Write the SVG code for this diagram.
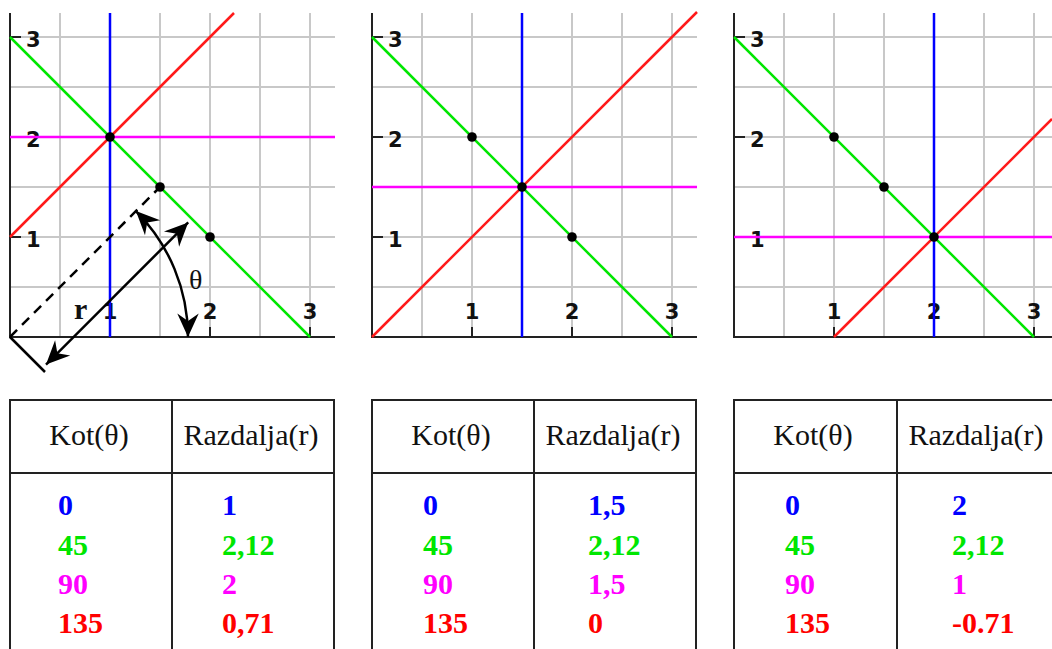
<svg xmlns="http://www.w3.org/2000/svg" width="1052" height="649" viewBox="0 0 1052 649">
<style>
.grid{stroke:#c8c8c8;stroke-width:2;fill:none}
.axis{stroke:#222;stroke-width:2;fill:none}
.tick{stroke:#222;stroke-width:2}
.lbl{font-family:"DejaVu Sans",Verdana,sans-serif;font-weight:bold;fill:#111}
.ym{text-anchor:start}
.xm{text-anchor:middle}
.blue{stroke:#0000ff;stroke-width:2.5;fill:none}
.green{stroke:#00e600;stroke-width:2.5;fill:none}
.mag{stroke:#ff00ff;stroke-width:2.5;fill:none}
.red{stroke:#ff1a1a;stroke-width:2.5;fill:none}
.dot{fill:#000}
.blk{stroke:#000;stroke-width:2.5;fill:none}
.tbl{stroke:#222;stroke-width:2;fill:none}
.hdr{font-family:"Liberation Serif","Times New Roman",serif;font-size:30px;fill:#111;text-anchor:middle}
.val{font-family:"Liberation Serif","Times New Roman",serif;font-weight:bold;font-size:30px}
.cb{fill:#0000ff}.cg{fill:#00e600}.cm{fill:#ff00ff}.cr{fill:#ff0000}
</style>
<defs>
<marker id="ah" markerUnits="userSpaceOnUse" markerWidth="30" markerHeight="30" viewBox="-26 -13 28 26" refX="0" refY="0" orient="auto-start-reverse">
<path d="M0,0 L-22,-10 L-15,0 L-22,10 Z" fill="#000"/>
</marker>
</defs>
<rect width="1052" height="649" fill="#fff"/>

<g id="plot1">
<path class="grid" d="M60,13V337M110,13V337M160,13V337M210,13V337M260,13V337M310,13V337M10,287H335M10,237H335M10,187H335M10,137H335M10,87H335M10,37H335"/>
<path class="axis" d="M10,13V337H335"/>
<path class="tick" d="M10,37H21M10,137H21M10,237H21M110,327V337M210,327V337M310,327V337"/>
<g class="lbl" font-size="21">
<text class="ym" x="26" y="47">3</text>
<text class="ym" x="26" y="147">2</text>
<text class="ym" x="26" y="247">1</text>
<text class="xm" x="110" y="319">1</text>
<text class="xm" x="210" y="319">2</text>
<text class="xm" x="310" y="319">3</text>
</g>
<line class="mag" x1="10" y1="137" x2="335" y2="137"/>
<line class="red" x1="10" y1="237" x2="234" y2="13"/>
<line class="green" x1="10" y1="37" x2="310" y2="337"/>
<line class="blue" x1="110" y1="13" x2="110" y2="337"/>
<circle class="dot" cx="110" cy="137" r="4.8"/>
<circle class="dot" cx="160" cy="187" r="4.8"/>
<circle class="dot" cx="210" cy="237" r="4.8"/>
</g>

<g id="plot2">
<path class="grid" d="M422,13V337M472,13V337M522,13V337M572,13V337M622,13V337M672,13V337M372,287H697M372,237H697M372,187H697M372,137H697M372,87H697M372,37H697"/>
<path class="axis" d="M372,13V337H697"/>
<path class="tick" d="M372,37H383M372,137H383M372,237H383M472,327V337M572,327V337M672,327V337"/>
<g class="lbl" font-size="21">
<text class="ym" x="388" y="47">3</text>
<text class="ym" x="388" y="147">2</text>
<text class="ym" x="388" y="247">1</text>
<text class="xm" x="472" y="319">1</text>
<text class="xm" x="572" y="319">2</text>
<text class="xm" x="672" y="319">3</text>
</g>
<line class="mag" x1="372" y1="187" x2="697" y2="187"/>
<line class="red" x1="372" y1="337" x2="697" y2="12"/>
<line class="green" x1="372" y1="37" x2="672" y2="337"/>
<line class="blue" x1="522" y1="13" x2="522" y2="337"/>
<circle class="dot" cx="472" cy="137" r="4.8"/>
<circle class="dot" cx="522" cy="187" r="4.8"/>
<circle class="dot" cx="572" cy="237" r="4.8"/>
</g>

<g id="plot3">
<path class="grid" d="M784,13V337M834,13V337M884,13V337M934,13V337M984,13V337M1034,13V337M734,287H1052M734,237H1052M734,187H1052M734,137H1052M734,87H1052M734,37H1052"/>
<path class="axis" d="M734,13V337H1052"/>
<path class="tick" d="M734,37H745M734,137H745M734,237H745M834,327V337M934,327V337M1034,327V337"/>
<g class="lbl" font-size="21">
<text class="ym" x="750" y="47">3</text>
<text class="ym" x="750" y="147">2</text>
<text class="ym" x="750" y="247">1</text>
<text class="xm" x="834" y="319">1</text>
<text class="xm" x="934" y="319">2</text>
<text class="xm" x="1034" y="319">3</text>
</g>
<line class="mag" x1="734" y1="237" x2="1052" y2="237"/>
<line class="red" x1="834" y1="337" x2="1052" y2="119"/>
<line class="green" x1="734" y1="37" x2="1034" y2="337"/>
<line class="blue" x1="934" y1="13" x2="934" y2="337"/>
<circle class="dot" cx="834" cy="137" r="4.8"/>
<circle class="dot" cx="884" cy="187" r="4.8"/>
<circle class="dot" cx="934" cy="237" r="4.8"/>
</g>

<g id="connectors">
<line class="blk" x1="10" y1="337" x2="160" y2="187" stroke-dasharray="10,7"/>
<line class="blk" x1="10" y1="337" x2="45" y2="372"/>
<line class="blk" x1="46" y1="364.6" x2="188.2" y2="222.4" marker-start="url(#ah)" marker-end="url(#ah)"/>
<path class="blk" d="M188,337 A178,178 0 0 0 135.9,211.1" marker-start="url(#ah)" marker-end="url(#ah)"/>
<text x="74" y="319" font-family="Liberation Serif,Times New Roman,serif" font-weight="bold" font-size="30" fill="#111">r</text>
<text x="189" y="289" font-family="Liberation Serif,Times New Roman,serif" font-size="28" fill="#111">θ</text>
</g>

<g id="table1">
<path class="tbl" d="M10,660V400H334V660M172,400V660M10,473H334"/>
<text class="hdr" x="89" y="445">Kot(θ)</text>
<text class="hdr" x="251" y="445">Razdalja(r)</text>
<text class="val cb" x="58" y="515">0</text>
<text class="val cg" x="58" y="555">45</text>
<text class="val cm" x="58" y="594">90</text>
<text class="val cr" x="58" y="633">135</text>
<text class="val cb" x="222" y="515">1</text>
<text class="val cg" x="222" y="555">2,12</text>
<text class="val cm" x="222" y="594">2</text>
<text class="val cr" x="222" y="633">0,71</text>
</g>

<g id="table2">
<path class="tbl" d="M372,660V400H696V660M534,400V660M372,473H696"/>
<text class="hdr" x="451" y="445">Kot(θ)</text>
<text class="hdr" x="613" y="445">Razdalja(r)</text>
<text class="val cb" x="423" y="515">0</text>
<text class="val cg" x="423" y="555">45</text>
<text class="val cm" x="423" y="594">90</text>
<text class="val cr" x="423" y="633">135</text>
<text class="val cb" x="588" y="515">1,5</text>
<text class="val cg" x="588" y="555">2,12</text>
<text class="val cm" x="588" y="594">1,5</text>
<text class="val cr" x="588" y="633">0</text>
</g>

<g id="table3">
<path class="tbl" d="M734,660V400H1060V660M897,400V660M734,473H1060"/>
<text class="hdr" x="813" y="445">Kot(θ)</text>
<text class="hdr" x="976" y="445">Razdalja(r)</text>
<text class="val cb" x="785" y="515">0</text>
<text class="val cg" x="785" y="555">45</text>
<text class="val cm" x="785" y="594">90</text>
<text class="val cr" x="785" y="633">135</text>
<text class="val cb" x="952" y="515">2</text>
<text class="val cg" x="952" y="555">2,12</text>
<text class="val cm" x="952" y="594">1</text>
<text class="val cr" x="952" y="633">-0.71</text>
</g>
</svg>
